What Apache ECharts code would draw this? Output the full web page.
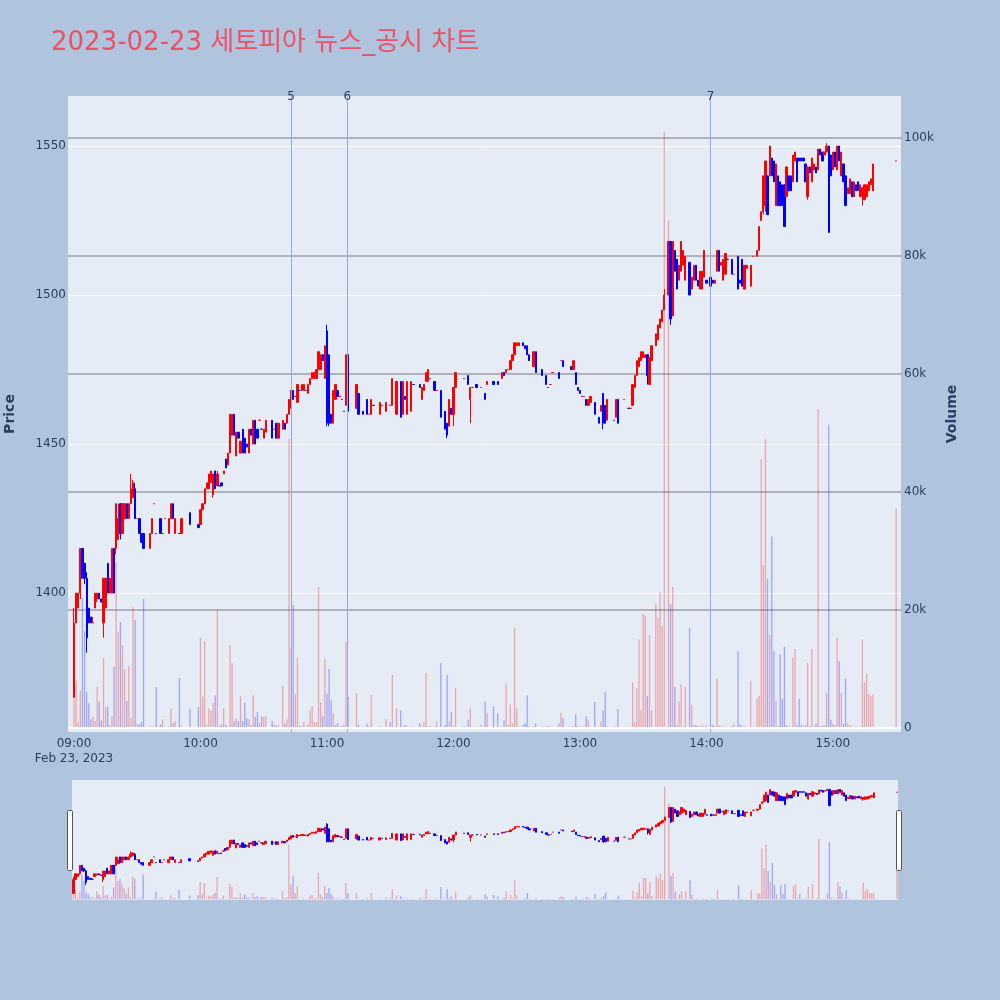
<!DOCTYPE html>
<html>
<head>
<meta charset="utf-8">
<script src="https://cdn.jsdelivr.net/npm/echarts/dist/echarts.min.js"></script>
<style>
  html, body { margin: 0; padding: 0; background: #b0c4de; }
  #chart { width: 1000px; height: 1000px; }
</style>
</head>
<body>
<div id="chart"></div>
<script>
// One row per traded minute: [time, open, close, low, high, volume]
const trades = [
  ['09:00',1365,1390,1365,1395,5000], ['09:01',1390,1400,1390,1400,8100], ['09:02',1395,1400,1395,1400,1000],
  ['09:03',1400,1415,1398,1415,6300], ['09:04',1415,1405,1405,1415,22000], ['09:05',1410,1405,1403,1410,16400],
  ['09:06',1405,1385,1380,1407,6100], ['09:07',1395,1390,1390,1395,4200], ['09:08',1392,1390,1390,1392,1500],
  ['09:09',1390,1390,1390,1392,2000], ['09:10',1395,1400,1395,1400,1200], ['09:11',1398,1400,1397,1400,7000],
  ['09:12',1400,1398,1398,1400,4500], ['09:13',1398,1397,1397,1398,1300], ['09:14',1390,1405,1385,1405,11800],
  ['09:15',1395,1405,1395,1405,3600], ['09:16',1410,1400,1400,1410,3600], ['09:17',1400,1405,1400,1405,500],
  ['09:18',1400,1415,1400,1415,2000], ['09:19',1415,1400,1400,1415,10400], ['09:20',1415,1430,1413,1430,28000],
  ['09:21',1418,1425,1418,1430,16300], ['09:22',1430,1420,1418,1430,18000], ['09:23',1420,1430,1420,1430,14000],
  ['09:24',1425,1430,1425,1430,10000], ['09:25',1430,1425,1425,1430,4600], ['09:26',1425,1430,1425,1430,10500],
  ['09:27',1430,1435,1430,1440,1700], ['09:28',1432,1437,1432,1438,20500], ['09:29',1435,1425,1425,1437,18300],
  ['09:30',1425,1425,1425,1425,700], ['09:31',1425,1420,1420,1425,600], ['09:32',1420,1417,1417,1420,1000],
  ['09:33',1420,1415,1415,1420,21900], ['09:36',1415,1420,1415,1420,300], ['09:37',1420,1425,1420,1425,300],
  ['09:38',1430,1430,1430,1430,200], ['09:39',1420,1420,1420,1420,6900], ['09:41',1425,1420,1420,1425,600],
  ['09:42',1420,1420,1420,1420,1500], ['09:43',1425,1425,1425,1425,300], ['09:45',1420,1425,1420,1425,300],
  ['09:46',1425,1430,1425,1430,3300], ['09:47',1430,1425,1425,1430,800], ['09:48',1420,1425,1420,1425,1200],
  ['09:50',1420,1420,1420,1420,8500], ['09:51',1420,1425,1420,1425,300], ['09:55',1427,1423,1423,1427,3200],
  ['09:59',1423,1422,1422,1423,3600], ['10:00',1423,1428,1423,1428,15300], ['10:01',1428,1430,1428,1430,5300],
  ['10:02',1430,1435,1430,1435,14700], ['10:03',1435,1437,1435,1437,500], ['10:04',1435,1440,1435,1440,3300],
  ['10:05',1437,1441,1437,1441,2900], ['10:06',1433,1440,1432,1440,4200], ['10:07',1441,1435,1435,1441,5500],
  ['10:08',1436,1440,1436,1441,20000], ['10:09',1436,1436,1436,1436,300], ['10:10',1437,1436,1436,1437,600],
  ['10:11',1440,1441,1440,1441,3300], ['10:12',1445,1442,1442,1445,600], ['10:13',1443,1447,1443,1447,300],
  ['10:14',1447,1460,1447,1460,14000], ['10:15',1453,1460,1453,1460,11000], ['10:16',1460,1453,1453,1460,1200],
  ['10:17',1446,1454,1446,1454,1700], ['10:18',1454,1452,1452,1454,1200], ['10:19',1447,1451,1447,1451,5400],
  ['10:20',1455,1447,1447,1455,1200], ['10:21',1452,1447,1447,1452,4300], ['10:22',1450,1449,1449,1450,1700],
  ['10:23',1447,1455,1447,1455,1500], ['10:24',1455,1453,1453,1455,500], ['10:25',1450,1458,1450,1458,5500],
  ['10:26',1458,1450,1450,1458,1900], ['10:27',1455,1452,1452,1455,2700], ['10:28',1458,1458,1458,1458,900],
  ['10:29',1455,1455,1455,1455,2000], ['10:30',1452,1455,1452,1455,1900], ['10:31',1454,1458,1454,1458,2000],
  ['10:34',1458,1452,1452,1458,1200], ['10:35',1455,1455,1455,1455,600], ['10:36',1457,1452,1452,1457,400],
  ['10:37',1452,1457,1452,1457,500], ['10:39',1455,1458,1455,1458,7100], ['10:40',1457,1455,1455,1457,800],
  ['10:41',1457,1460,1457,1460,1500], ['10:42',1460,1465,1460,1465,49000], ['10:43',1462,1468,1462,1468,13500],
  ['10:44',1468,1465,1465,1468,20900], ['10:45',1466,1466,1466,1466,5700], ['10:46',1464,1470,1464,1470,11900],
  ['10:47',1468,1468,1468,1468,400], ['10:48',1468,1470,1468,1470,300], ['10:49',1468,1470,1468,1470,1000],
  ['10:50',1468,1468,1468,1468,300], ['10:51',1467,1470,1467,1470,600], ['10:52',1470,1472,1470,1472,3100],
  ['10:53',1472,1474,1472,1474,3700], ['10:54',1472,1474,1472,1474,1000], ['10:55',1472,1475,1472,1475,1000],
  ['10:56',1475,1481,1475,1481,23900], ['10:57',1475,1480,1475,1480,4300], ['10:58',1480,1478,1478,1480,2000],
  ['10:59',1472,1483,1472,1483,11700], ['11:00',1488,1457,1456,1490,5800], ['11:01',1480,1457,1456,1480,10000],
  ['11:02',1460,1457,1457,1460,4700], ['11:03',1457,1468,1457,1468,2400], ['11:04',1465,1470,1465,1470,500],
  ['11:05',1468,1466,1466,1468,800], ['11:06',1466,1466,1466,1466,300], ['11:07',1465,1465,1465,1465,300],
  ['11:08',1461,1461,1461,1461,500], ['11:09',1463,1480,1463,1480,14600], ['11:10',1480,1461,1461,1480,5300],
  ['11:14',1462,1470,1462,1470,5900], ['11:15',1467,1460,1460,1467,500], ['11:17',1461,1460,1460,1461,300],
  ['11:19',1465,1460,1460,1465,700], ['11:20',1460,1460,1460,1460,300], ['11:21',1460,1465,1460,1465,5600],
  ['11:22',1463,1463,1463,1463,200], ['11:25',1460,1464,1460,1464,300], ['11:26',1463,1463,1463,1463,200],
  ['11:28',1461,1464,1461,1464,1500], ['11:30',1463,1463,1463,1463,1000], ['11:31',1463,1472,1463,1472,9000],
  ['11:33',1460,1471,1460,1471,3300], ['11:35',1471,1459,1459,1471,3000], ['11:36',1460,1471,1460,1471,300],
  ['11:37',1466,1465,1465,1466,500], ['11:38',1460,1471,1460,1471,400], ['11:40',1461,1471,1461,1471,300],
  ['11:41',1470,1470,1470,1470,200], ['11:44',1470,1469,1469,1470,800], ['11:45',1465,1469,1465,1469,300],
  ['11:46',1468,1470,1468,1470,1000], ['11:47',1471,1474,1471,1474,9300], ['11:48',1471,1475,1471,1475,300],
  ['11:49',1472,1472,1472,1472,300], ['11:51',1471,1468,1468,1471,300], ['11:52',1468,1468,1468,1468,1100],
  ['11:54',1468,1459,1459,1468,11000], ['11:56',1461,1455,1455,1461,500], ['11:57',1457,1453,1452,1457,9000],
  ['11:58',1456,1465,1456,1465,1100], ['11:59',1462,1460,1460,1462,2700], ['12:00',1460,1469,1456,1469,300],
  ['12:01',1469,1474,1469,1474,6800], ['12:05',1472,1472,1472,1472,300], ['12:07',1473,1470,1470,1473,1400],
  ['12:08',1465,1469,1457,1469,3300], ['12:09',1469,1469,1469,1469,200], ['12:11',1470,1469,1469,1470,300],
  ['12:13',1469,1469,1469,1469,500], ['12:15',1467,1465,1465,1467,4500], ['12:16',1470,1471,1470,1471,2500],
  ['12:19',1471,1470,1470,1471,3700], ['12:21',1471,1470,1470,1471,2500], ['12:23',1472,1474,1472,1474,300],
  ['12:24',1474,1473,1473,1474,1300], ['12:25',1474,1475,1474,1475,7400], ['12:26',1475,1475,1475,1475,500],
  ['12:27',1475,1478,1475,1478,4000], ['12:28',1478,1480,1478,1480,800], ['12:29',1480,1484,1480,1484,17000],
  ['12:30',1483,1484,1483,1484,3400], ['12:31',1483,1484,1483,1484,300], ['12:33',1484,1483,1483,1484,500],
  ['12:34',1483,1482,1482,1483,800], ['12:35',1483,1480,1480,1483,5500], ['12:36',1480,1478,1478,1480,300],
  ['12:38',1476,1481,1476,1481,300], ['12:39',1481,1474,1474,1481,800], ['12:42',1475,1473,1473,1475,300],
  ['12:44',1473,1470,1470,1473,300], ['12:45',1469,1469,1469,1469,300], ['12:46',1470,1470,1470,1470,200],
  ['12:47',1474,1474,1474,1474,200], ['12:50',1474,1472,1472,1474,800], ['12:51',1478,1478,1478,1478,2600],
  ['12:52',1478,1476,1476,1478,1700], ['12:56',1476,1475,1475,1476,300], ['12:57',1475,1478,1475,1478,300],
  ['12:58',1474,1470,1470,1474,2300], ['12:59',1469,1468,1468,1469,300], ['13:00',1468,1467,1467,1468,200],
  ['13:01',1466,1466,1466,1466,200], ['13:02',1466,1466,1466,1466,300], ['13:03',1465,1463,1463,1465,2000],
  ['13:04',1463,1465,1463,1465,1300], ['13:05',1464,1466,1464,1466,200], ['13:07',1464,1460,1460,1464,4400],
  ['13:09',1459,1457,1457,1459,200], ['13:10',1461,1463,1461,1463,1100], ['13:11',1467,1457,1455,1467,3000],
  ['13:12',1463,1457,1457,1463,6100], ['13:13',1458,1465,1458,1465,300], ['13:16',1458,1458,1458,1458,300],
  ['13:17',1459,1465,1459,1465,300], ['13:18',1465,1457,1457,1465,3200], ['13:21',1465,1465,1465,1465,200],
  ['13:23',1462,1462,1462,1462,200], ['13:24',1462,1462,1462,1462,200], ['13:25',1463,1470,1463,1470,7700],
  ['13:26',1469,1473,1469,1473,1000], ['13:27',1473,1478,1473,1478,6800], ['13:28',1476,1479,1476,1479,15000],
  ['13:29',1478,1481,1478,1481,3000], ['13:30',1479,1481,1479,1481,19300], ['13:31',1479,1480,1479,1480,19000],
  ['13:32',1480,1473,1470,1480,5400], ['13:33',1470,1479,1470,1479,15700], ['13:34',1478,1483,1478,1483,3000],
  ['13:36',1483,1487,1483,1487,21000], ['13:37',1485,1490,1485,1490,18600], ['13:38',1489,1492,1489,1492,23000],
  ['13:39',1491,1495,1491,1495,17300], ['13:40',1495,1500,1495,1502,101000], ['13:42',1500,1518,1500,1518,86000],
  ['13:43',1518,1492,1490,1518,21000], ['13:44',1493,1518,1493,1518,23900], ['13:45',1515,1508,1508,1515,7000],
  ['13:46',1512,1502,1502,1512,500], ['13:47',1505,1510,1505,1510,4500], ['13:48',1508,1518,1508,1518,7400],
  ['13:49',1510,1515,1510,1515,300], ['13:50',1505,1513,1505,1513,7000], ['13:52',1511,1500,1500,1511,17000],
  ['13:53',1502,1506,1502,1506,4000], ['13:54',1505,1510,1505,1510,500], ['13:55',1510,1505,1505,1510,500],
  ['13:56',1505,1503,1503,1505,300], ['13:57',1502,1508,1502,1508,300], ['13:58',1502,1508,1502,1508,600],
  ['13:59',1506,1515,1506,1515,300], ['14:00',1505,1504,1504,1505,400], ['14:02',1506,1503,1503,1506,600],
  ['14:03',1505,1504,1504,1505,500], ['14:04',1504,1505,1504,1505,300], ['14:05',1508,1515,1508,1515,8400],
  ['14:06',1515,1508,1508,1515,400], ['14:07',1510,1511,1510,1511,300], ['14:08',1505,1512,1505,1512,300],
  ['14:09',1507,1514,1507,1514,200], ['14:10',1512,1512,1512,1512,200], ['14:12',1512,1507,1507,1512,300],
  ['14:13',1507,1507,1507,1507,600], ['14:15',1513,1502,1502,1513,13000], ['14:16',1505,1504,1504,1505,600],
  ['14:17',1512,1503,1503,1512,300], ['14:18',1502,1510,1502,1510,300], ['14:19',1509,1510,1509,1510,200],
  ['14:21',1503,1510,1503,1510,8000], ['14:22',1513,1513,1513,1513,200], ['14:24',1513,1515,1513,1515,5000],
  ['14:25',1515,1523,1515,1523,5400], ['14:26',1525,1528,1525,1528,45500], ['14:27',1528,1540,1527,1540,27600],
  ['14:28',1530,1545,1528,1545,48900], ['14:29',1540,1527,1527,1540,25300], ['14:30',1540,1550,1540,1550,15700],
  ['14:31',1546,1540,1540,1546,32500], ['14:32',1545,1538,1538,1545,13000], ['14:33',1530,1544,1530,1544,4600],
  ['14:34',1540,1530,1530,1540,300], ['14:35',1538,1530,1530,1538,12500], ['14:36',1537,1530,1530,1537,5000],
  ['14:37',1537,1523,1523,1537,13800], ['14:38',1533,1543,1533,1543,500], ['14:39',1540,1535,1535,1540,300],
  ['14:40',1540,1535,1535,1540,200], ['14:41',1538,1547,1538,1547,12000], ['14:42',1545,1548,1545,1548,13400],
  ['14:43',1546,1538,1538,1546,500], ['14:44',1546,1545,1545,1546,5000], ['14:45',1546,1545,1545,1546,500],
  ['14:46',1546,1545,1545,1546,300], ['14:47',1544,1538,1538,1544,500], ['14:48',1533,1543,1532,1543,11000],
  ['14:49',1543,1541,1541,1543,300], ['14:50',1538,1546,1538,1546,13400], ['14:51',1542,1544,1542,1544,300],
  ['14:52',1543,1541,1541,1543,700], ['14:53',1542,1549,1542,1549,54000], ['14:54',1549,1547,1547,1549,300],
  ['14:55',1548,1545,1545,1548,400], ['14:56',1547,1548,1547,1548,500], ['14:57',1548,1550,1548,1551,6000],
  ['14:58',1550,1521,1521,1550,51400], ['14:59',1547,1540,1540,1547,1400], ['15:00',1542,1548,1542,1548,700],
  ['15:01',1548,1543,1543,1548,500], ['15:02',1542,1550,1542,1550,15300], ['15:03',1550,1545,1545,1550,11400],
  ['15:04',1540,1548,1540,1548,6000], ['15:05',1544,1538,1538,1544,700], ['15:06',1540,1530,1530,1540,8400],
  ['15:07',1534,1536,1534,1536,800], ['15:08',1534,1539,1534,1539,500], ['15:09',1538,1533,1533,1538,300],
  ['15:10',1533,1538,1533,1538,200], ['15:11',1537,1535,1535,1537,300], ['15:12',1538,1535,1535,1538,100],
  ['15:13',1533,1537,1533,1537,300], ['15:14',1533,1536,1530,1536,15000], ['15:15',1532,1537,1532,1537,7700],
  ['15:16',1533,1537,1533,1537,9200], ['15:17',1535,1538,1535,1538,5800], ['15:18',1537,1539,1537,1539,5400],
  ['15:19',1535,1544,1535,1544,5700], ['15:30',1545,1545,1545,1545,37200]
];

// News / disclosure markers: [time, label]
const newsMarks = [['10:43', '5'], ['11:09:36', '6'], ['14:02', '7']];

// Axis ticks
const timeTicks = ['09:00', '10:00', '11:00', '12:00', '13:00', '14:00', '15:00'];
const dateLabel = 'Feb 23, 2023';
const priceRange = [1353.4, 1566.8];
const volumeRange = [-680, 107100];
const titleText = '2023-02-23 세토피아 뉴스_공시 차트';

const FONT = '"DejaVu Sans", "Noto Sans CJK KR", sans-serif';
const INK = '#2a3f5f';
const UP = '#ff0000', DOWN = '#0000ff';

// minutes after 09:00 (accepts HH:MM or HH:MM:SS)
function toMin(t) {
  const p = t.split(':').map(Number);
  return (p[0] - 9) * 60 + p[1] + (p[2] || 0) / 60;
}
const xRange = [-2.85, 392.3];       // main plot time window
const sliderRange = [-0.7, 390.5];   // range-slider time window

// rising minute: close above open, or unchanged and not below the previous close
function isUp(i) {
  const r = trades[i];
  if (r[2] !== r[1]) return r[2] > r[1];
  return i === 0 || trades[i - 1][2] <= r[2];
}

const candleData = trades.map(r => [toMin(r[0]), r[1], r[2], r[3], r[4]]);
const volumeData = trades.map((r, i) => ({
  value: [toMin(r[0]), r[5]],
  itemStyle: { color: isUp(i) ? 'rgba(255,0,0,0.3)' : 'rgba(0,0,255,0.3)' }
}));
const tickSet = new Set(timeTicks.map(toMin));

function timeLabel(v) {
  const m = Math.round(v);
  if (Math.abs(v - m) > 1e-6 || !tickSet.has(m)) return '';
  const hh = String(9 + Math.floor(m / 60)).padStart(2, '0');
  const mm = String(m % 60).padStart(2, '0');
  const s = hh + ':' + mm;
  return m === 0 ? '{t|' + s + '}\n{d|' + dateLabel + '}' : '{t|' + s + '}';
}

const chart = echarts.init(document.getElementById('chart'), null, { renderer: 'canvas' });

const candleStyle = {
  color: UP, color0: DOWN, borderColor: UP, borderColor0: DOWN, borderWidth: 1
};

chart.setOption({
  animation: false,
  backgroundColor: '#b0c4de',
  textStyle: { fontFamily: FONT },
  title: {
    text: titleText,
    left: 46, top: 25,
    textStyle: { color: '#ea5266', fontSize: 26, fontWeight: 'normal', fontFamily: FONT }
  },
  grid: [
    { left: 68, right: 99, top: 96, bottom: 268, show: true, backgroundColor: '#e5ecf6', borderWidth: 0,
      containLabel: false, outerBoundsMode: 'none' },
    { left: 72, right: 102, top: 780, bottom: 100, show: true, backgroundColor: '#e5ecf6', borderWidth: 0,
      containLabel: false, outerBoundsMode: 'none' }
  ],
  xAxis: [
    {
      type: 'value', gridIndex: 0, min: xRange[0], max: xRange[1],
      minInterval: 60, maxInterval: 60,
      axisLine: { show: false }, axisTick: { show: false }, splitLine: { show: false },
      axisLabel: {
        margin: 4, formatter: timeLabel, showMinLabel: false, showMaxLabel: false,
        rich: {
          t: { color: INK, fontSize: 12, fontFamily: FONT, lineHeight: 15 },
          d: { color: INK, fontSize: 12, fontFamily: FONT, lineHeight: 16 }
        }
      }
    },
    {
      type: 'value', gridIndex: 1, min: sliderRange[0], max: sliderRange[1],
      show: false
    }
  ],
  yAxis: [
    {
      type: 'value', gridIndex: 0, position: 'left',
      min: priceRange[0], max: priceRange[1], minInterval: 50, maxInterval: 50,
      name: 'Price', nameLocation: 'middle', nameGap: 51, nameRotate: 90,
      nameTextStyle: { color: INK, fontSize: 14, fontWeight: 'bold', fontFamily: FONT },
      axisLine: { show: false }, axisTick: { show: false },
      axisLabel: {
        color: INK, fontSize: 12, margin: 2, showMinLabel: false, showMaxLabel: false,
        formatter: v => (Math.abs(v % 50) < 1e-6 ? String(v) : '')
      },
      splitLine: { show: true, showMinLine: false, showMaxLine: false, lineStyle: { color: '#ffffff', width: 1 } }
    },
    {
      type: 'value', gridIndex: 0, position: 'right',
      min: volumeRange[0], max: volumeRange[1], minInterval: 20000, maxInterval: 20000,
      name: 'Volume', nameLocation: 'middle', nameGap: 44, nameRotate: 90,
      nameTextStyle: { color: INK, fontSize: 14, fontWeight: 'bold', fontFamily: FONT },
      axisLine: { show: false }, axisTick: { show: false },
      axisLabel: {
        color: INK, fontSize: 12, margin: 3, showMinLabel: false, showMaxLabel: false,
        formatter: v => (Math.abs(v % 20000) < 1e-6 ? (v === 0 ? '0' : (v / 1000) + 'k') : '')
      },
      splitLine: { show: true, showMinLine: false, showMaxLine: false, lineStyle: { color: 'rgba(120,120,130,0.5)', width: 2 } }
    },
    { type: 'value', gridIndex: 1, min: priceRange[0], max: priceRange[1], show: false, splitLine: { show: false } },
    { type: 'value', gridIndex: 1, min: volumeRange[0], max: volumeRange[1], show: false, splitLine: { show: false } }
  ],
  series: [
    {
      type: 'candlestick', name: 'Price', xAxisIndex: 0, yAxisIndex: 0,
      data: candleData, encode: { x: 0, y: [1, 2, 3, 4] },
      barWidth: 1.8, itemStyle: candleStyle, z: 3,
      markLine: {
        silent: true, symbol: ['none', 'none'], animation: false,
        lineStyle: { color: '#97a6e4', width: 1, type: 'solid' },
        label: { show: true, position: 'end', distance: -7, color: INK, fontSize: 12, fontFamily: FONT },
        data: newsMarks.map(n => ({ xAxis: toMin(n[0]), label: { formatter: n[1] } }))
      }
    },
    {
      type: 'bar', name: 'Volume', xAxisIndex: 0, yAxisIndex: 1,
      data: volumeData, encode: { x: 0, y: 1 }, barWidth: 1.3, z: 4,
      markLine: {
        silent: true, symbol: ['none', 'none'], animation: false,
        lineStyle: { color: '#ffffff', width: 2, type: 'solid' },
        label: { show: false },
        data: [{ yAxis: 0 }]
      }
    },
    {
      type: 'candlestick', xAxisIndex: 1, yAxisIndex: 2,
      data: candleData, encode: { x: 0, y: [1, 2, 3, 4] },
      barWidth: 1.8, itemStyle: candleStyle, silent: true, z: 3
    },
    {
      type: 'bar', xAxisIndex: 1, yAxisIndex: 3,
      data: volumeData, encode: { x: 0, y: 1 }, barWidth: 1.3, silent: true, z: 4
    }
  ],
  graphic: [
    { type: 'rect', shape: { x: 67.5, y: 810.5, width: 5, height: 60, r: 1 },
      style: { fill: '#ffffff', stroke: '#555555', lineWidth: 1 }, z: 100 },
    { type: 'rect', shape: { x: 896.5, y: 810.5, width: 5, height: 60, r: 1 },
      style: { fill: '#ffffff', stroke: '#555555', lineWidth: 1 }, z: 100 }
  ]
});
</script>
</body>
</html>
